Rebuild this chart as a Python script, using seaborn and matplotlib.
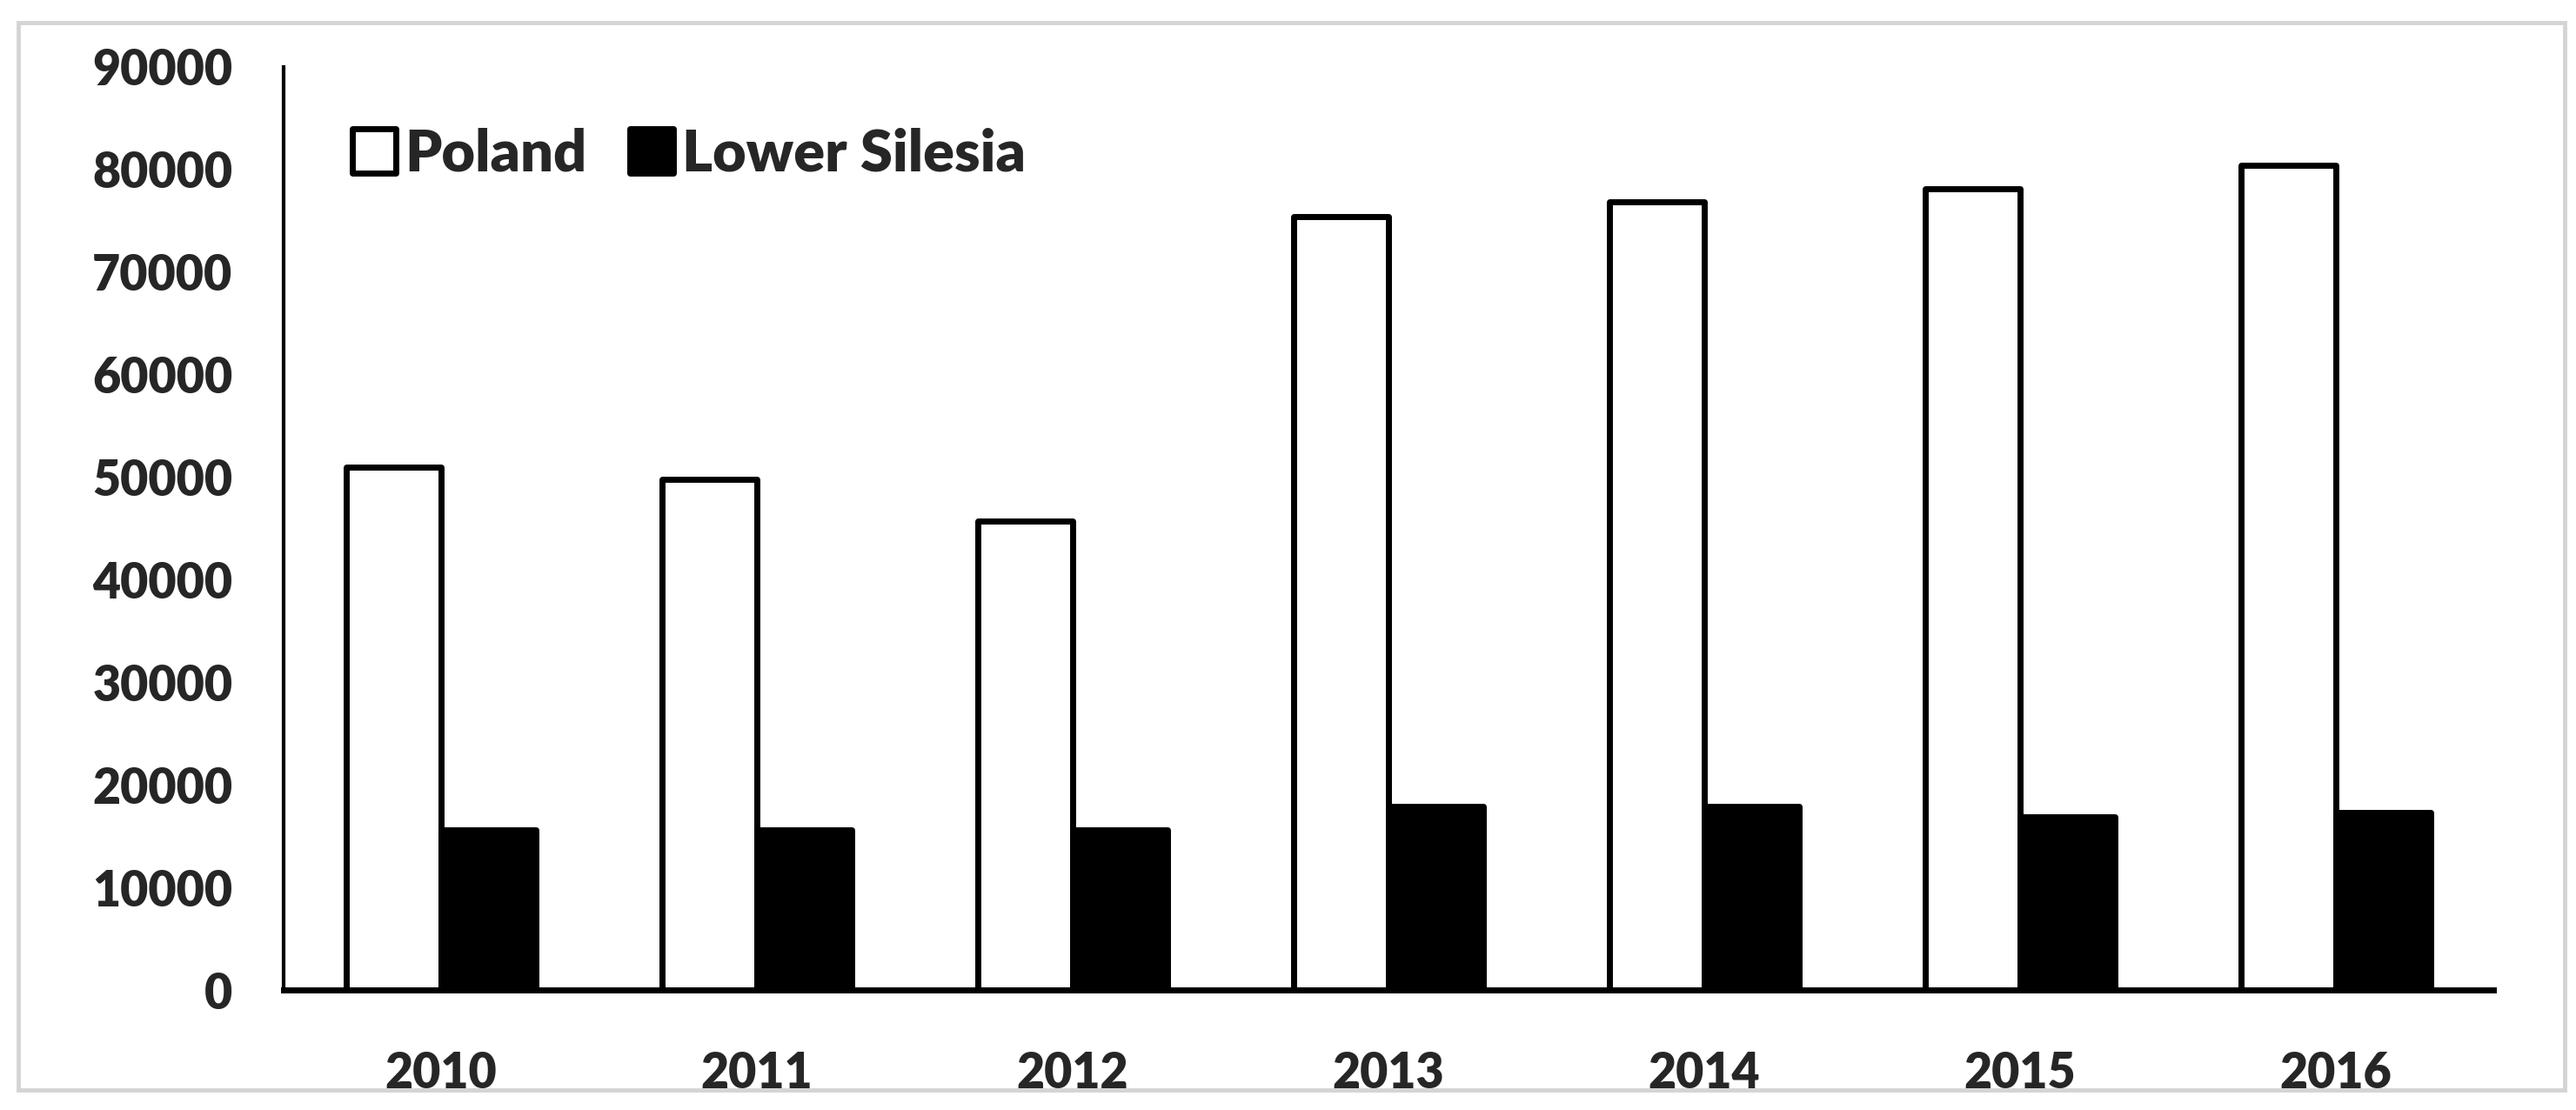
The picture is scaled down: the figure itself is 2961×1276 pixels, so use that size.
import pandas as pd
import matplotlib
matplotlib.use('Agg')
import matplotlib.pyplot as plt
from matplotlib.patches import Rectangle
import seaborn as sns

# data
YEARS = ['2010', '2011', '2012', '2013', '2014', '2015', '2016']
POLAND = [51000, 49800, 45700, 75400, 76800, 78100, 80400]
LOWER_SILESIA = [15600, 15600, 15600, 17900, 17900, 16900, 17300]
SERIES = ['Poland', 'Lower Silesia']
Y_TICKS = list(range(0, 90001, 10000))

sns.set_style("white")
plt.rcParams['font.family'] = ['Lato', 'DejaVu Sans']
plt.rcParams['font.weight'] = 'heavy'

df = pd.DataFrame({
    'Year': YEARS * 2,
    'Value': POLAND + LOWER_SILESIA,
    'Region': [SERIES[0]] * len(YEARS) + [SERIES[1]] * len(YEARS),
})

fig = plt.figure(figsize=(29.61, 12.76), dpi=100)
ax = fig.add_axes([0.110, 0.108, 0.858, 0.832])

sns.barplot(data=df, x='Year', y='Value', hue='Region', order=YEARS,
            hue_order=SERIES, palette=['white', 'black'], edgecolor='black',
            linewidth=5, width=0.6, ax=ax, legend=True)
for p in ax.patches:
    p.set_joinstyle('round')

ax.set_ylim(0, 90000)
ax.set_yticks(Y_TICKS)
ax.set_yticklabels([str(t) for t in Y_TICKS])
ax.set_xlabel("")
ax.set_ylabel("")
ax.tick_params(axis='both', length=0, labelsize=40)
ax.tick_params(axis='y', pad=42)
ax.tick_params(axis='x', pad=50)
for lab in ax.get_xticklabels() + ax.get_yticklabels():
    lab.set_fontweight('heavy')

sns.despine(ax=ax)
ax.spines['left'].set_linewidth(3)
ax.spines['bottom'].set_linewidth(5)
ax.spines['left'].set_color('black')
ax.spines['bottom'].set_color('black')

leg = ax.legend(loc='center left', bbox_to_anchor=(0.018, 0.905), frameon=False,
                ncol=2, handlelength=0.75, handleheight=0.8, handletextpad=0.15,
                columnspacing=0.75, borderpad=0, prop={'size': 48, 'weight': 'heavy'})
for h in leg.legend_handles:
    h.set_linewidth(5)
    h.set_edgecolor('black')
    h.set_joinstyle('round')

# light grey frame around the whole picture
fig.patches.append(Rectangle((21 / 2961, 1 - 1253 / 1276), (2948 - 21) / 2961,
                             (1253 - 26) / 1276, transform=fig.transFigure,
                             fill=False, edgecolor='#d4d4d4', linewidth=3.5))

fig.savefig("out.png", dpi=100)
